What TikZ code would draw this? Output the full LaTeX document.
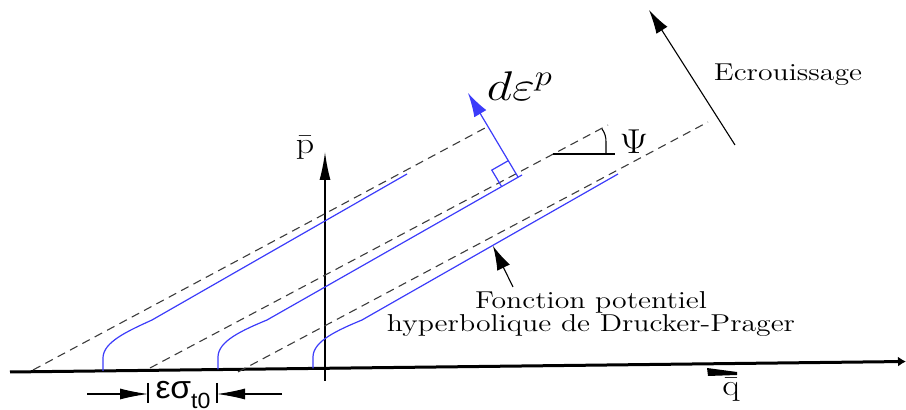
\documentclass[tikz,border=0pt]{standalone}
\usepackage{fontspec}
\usepackage{graphicx}
\newfontfamily\arialf{Liberation Sans}
\usetikzlibrary{arrows.meta}
\definecolor{myblue}{RGB}{60,60,250}
\definecolor{dashgray}{RGB}{60,60,60}
\begin{document}
\begin{tikzpicture}[x=0.5pt,y=-0.5pt,
  dashln/.style={draw=dashgray,line width=0.55pt,dash pattern=on 4.2pt off 2.8pt},
  blueln/.style={draw=myblue,line width=0.6pt},
  thinln/.style={draw=black,line width=0.55pt},
  lbl/.style={inner sep=0pt,font=\fontsize{12.2}{11.5}\selectfont}
]
\useasboundingbox (0,0) rectangle (906,410);

% axes
\coordinate (qL) at (10,372);
\coordinate (qR) at (906,361.5);
\draw[line width=1.5pt,-{Latex[length=4pt,width=5pt]}] (qL) -- (qR);
\coordinate (pB) at (325,381);
\coordinate (pT) at (325,152);
\draw[line width=0.8pt,-{Latex[length=14pt,width=5.5pt]}] (pB) -- (pT);
\fill (707,368) -- (737,372) -- (737,375) -- (708,376) -- cycle;

% dashed asymptotes
\coordinate (a1) at (33,370);  \coordinate (a2) at (485,128);
\coordinate (b1) at (150,368); \coordinate (b2) at (608,125);
\coordinate (c1) at (238,372); \coordinate (c2) at (708,122);
\draw[dashln] (a1) -- (a2);
\draw[dashln] (b1) -- (b2);
\draw[dashln] (c1) -- (c2);

% blue hyperbolic potentials
\draw[blueln] (103,371) -- (103,358) .. controls (103,342) and (128,331) .. (152,320) -- (407,174);
\draw[blueln] (218,369.5) -- (218,357) .. controls (218,341) and (243,330) .. (267,320) -- (522,175);
\draw[blueln] (313,368.5) -- (313,357) .. controls (313,341) and (338,330) .. (362,320) -- (618,174);

% plastic strain increment
\coordinate (foot) at (518,177);
\coordinate (deptip) at (468,93);
\draw[blueln,-{Latex[length=12pt,width=7pt]}] (foot) -- (deptip);
\draw[blueln] (501.5,186.4) -- (491.8,170.1) -- (508.3,160.7);
\node[lbl,font=\fontsize{21}{21}\selectfont] (dep) at (520,86) {\scalebox{1.2}[1]{$d\varepsilon^{p}$}};

% dilatancy angle
\coordinate (h1) at (553,154);
\coordinate (h2) at (615,154);
\draw[thinln] (h1) -- (h2);
\draw[thinln] (602,129) .. controls (605,133) and (606,137) .. (606,142) -- (606,154);
\node[lbl,font=\fontsize{17}{17}\selectfont] (psi) at (634,142) {\scalebox{1.15}[1]{$\Psi$}};

% hardening
\coordinate (e1) at (735,145);
\coordinate (e2) at (649,10);
\draw[thinln,-{Latex[length=12pt,width=6.5pt]}] (e1) -- (e2);
\node[lbl] (ecr) at (788,75) {\scalebox{1.22}[1]{Ecrouissage}};

% potential label
\node[lbl] (fp) at (591,315) {\scalebox{1.22}[1]{\begin{tabular}{@{}c@{}}Fonction potentiel\\hyperbolique de Drucker-Prager\end{tabular}}};
\coordinate (f1) at (513,287);
\coordinate (f2) at (493,246);
\draw[thinln,-{Latex[length=12pt,width=7pt]}] (f1) -- (f2);

% axis labels
\node[lbl,font=\fontsize{15}{15}\selectfont] (pl) at (305,148) {\scalebox{1.2}[1]{$\bar{\mathrm{p}}$}};
\node[lbl,font=\fontsize{15}{15}\selectfont] (ql) at (731,390) {\scalebox{1.2}[1]{$\bar{\mathrm{q}}$}};

% epsilon sigma dimension
\coordinate (d1) at (87,394);  \coordinate (d2) at (148,394);
\coordinate (d3) at (282,394); \coordinate (d4) at (217,394);
\draw[thinln,-{Latex[length=14pt,width=5.5pt]}] (d1) -- (d2);
\draw[thinln,-{Latex[length=14pt,width=5.5pt]}] (d3) -- (d4);
\draw[thinln] (148,383) -- (148,403);
\draw[thinln] (217,383) -- (217,403);
\node[inner sep=0pt,font=\arialf\fontsize{16}{16}\selectfont] (es) at (183,395) {\scalebox{1.05}[1]{εσ\raisebox{-0.3em}{\fontsize{11}{11}\selectfont t0}}};
\end{tikzpicture}
\end{document}
